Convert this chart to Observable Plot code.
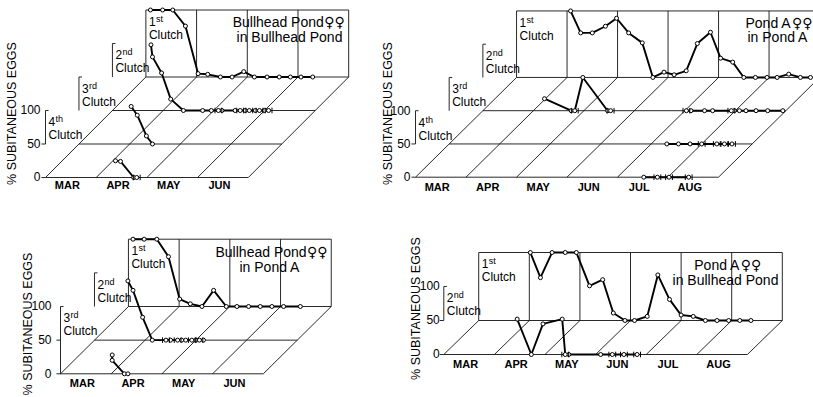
<!DOCTYPE html>
<html><head><meta charset="utf-8">
<script src="https://cdn.jsdelivr.net/npm/d3@7"></script>
<script src="https://cdn.jsdelivr.net/npm/@observablehq/plot@0.6"></script>
<style>
html,body{margin:0;padding:0;background:#fff;}
#fig{position:relative;width:813px;height:397px;overflow:hidden;background:#fff;}
#fig svg{position:absolute;}
</style></head><body><div id="fig"></div>
<script>
// ---------- DATA (t = months after 1 March, v = % subitaneous eggs, 3rd item 1 = crossed marker) ----------
const months4 = ["MAR", "APR", "MAY", "JUN"];
const months6 = ["MAR", "APR", "MAY", "JUN", "JUL", "AUG"];
const clutchNames = [["1", "st"], ["2", "nd"], ["3", "rd"], ["4", "th"]];
const yTicks = [0, 50, 100];
const axisTitle = "% SUBITANEOUS EGGS";

// Bullhead Pond females in Bullhead Pond
const titleBB = ["Bullhead Pond\u2640\u2640", "in Bullhead Pond"];
const bbClutch1 = [[0.09,100],[0.33,100],[0.53,100],[0.78,76],[1.03,5],[1.22,4],[1.47,0],[1.70,0],[1.93,8],[2.14,0],[2.39,0],[2.63,0],[2.85,0],[3.06,0],[3.29,0]];
const bbClutch2 = [[0.76,98],[0.79,80],[0.97,56],[1.15,17],[1.40,0],[1.78,0],[1.95,0],[2.09,0,1],[2.16,0],[2.42,0],[2.52,0,1],[2.62,0],[2.70,0,1],[2.82,0],[2.90,0,1],[3.00,0],[3.08,0,1]];
const bbClutch3 = [[1.03,56],[1.15,43],[1.33,12],[1.45,0]];
const bbClutch4 = [[1.38,25],[1.48,24],[1.74,0],[1.80,0,1]];

// Pond A females in Pond A
const titleAA = ["Pond A\u2640\u2640", "in Pond A"];
const aaClutch1 = [[1.07,100],[1.27,67],[1.50,67],[1.76,77],[1.98,89],[2.22,67],[2.49,52],[2.70,0],[2.92,8],[3.12,4],[3.36,10],[3.58,51],[3.84,68],[4.04,29],[4.28,23],[4.50,0],[4.73,0],[4.96,0],[5.16,0],[5.39,5],[5.62,0],[5.82,0]];
const aaClutch2a = [[1.22,18],[1.75,0],[1.82,0,1],[1.98,50],[2.47,0],[2.53,0,1]];
const aaClutch2b = [[4.03,0,1],[4.12,0],[4.39,0],[4.55,0],[4.92,0,1],[4.98,0],[5.08,0],[5.21,0],[5.41,0],[5.64,0],[5.94,0]];
const aaClutch3 = [[4.31,0],[4.54,0],[4.77,0],[5.00,0,1],[5.30,0,1],[5.45,0,1],[5.60,0,1]];
const aaClutch4 = [[4.52,0],[4.79,0,1],[5.02,0,1],[5.41,0,1]];

// Bullhead Pond females in Pond A
const titleBA = ["Bullhead Pond\u2640\u2640", "in Pond A"];
const baClutch1 = [[0.09,100],[0.31,100],[0.56,100],[0.79,74],[1.01,11],[1.22,4],[1.45,0],[1.68,24],[1.93,0],[2.14,0],[2.37,0],[2.60,0],[2.83,0],[3.06,0],[3.39,0]];
const baClutch2 = [[0.66,88],[0.76,74],[0.95,34],[1.14,0],[1.41,0,1],[1.50,0],[1.64,0,1],[1.72,0],[1.80,0],[1.92,0,1],[2.00,0],[2.07,0,1],[2.15,0]];
const baClutch3 = [[1.02,28],[1.02,20],[1.26,0],[1.33,0]];

// Pond A females in Bullhead Pond
const titleAB = ["Pond A\u2640\u2640", "in Bullhead Pond"];
const abClutch1 = [[1.02,100],[1.22,63],[1.45,100],[1.71,100],[1.93,100],[2.19,51],[2.45,60],[2.66,11],[2.89,0],[3.08,0],[3.33,6],[3.54,67],[3.77,31],[4.00,8],[4.24,6],[4.48,0],[4.71,0],[4.94,0],[5.16,0],[5.38,0]];
const abClutch2 = [[1.45,52],[1.73,0],[1.96,45],[2.34,52],[2.40,0,1],[2.47,0],[3.10,0],[3.33,0,1],[3.56,0,1],[3.82,0,1]];

// ---------- panel definitions (content) ----------
const panels = [
  {months: months4, nClutch: 4, title: titleBB,
   series: [{c:1, d:bbClutch1}, {c:2, d:bbClutch2}, {c:3, d:bbClutch3}, {c:4, d:bbClutch4}]},
  {months: months6, nClutch: 4, title: titleAA,
   series: [{c:1, d:aaClutch1}, {c:2, d:aaClutch2a}, {c:2, d:aaClutch2b}, {c:3, d:aaClutch3}, {c:4, d:aaClutch4}]},
  {months: months4, nClutch: 3, title: titleBA,
   series: [{c:1, d:baClutch1}, {c:2, d:baClutch2}, {c:3, d:baClutch3}]},
  {months: months6, nClutch: 2, title: titleAB,
   series: [{c:1, d:abClutch1}, {c:2, d:abClutch2}]}
];

// ---------- layout (pixels) ----------
const layout = [
  {left:0, top:0, width:380, height:200, ox:45, oy:177, mw:50.7, p100:67, k:0.66, frontFull:false,
   axX:11, axDy:13, tickDx:-5, monthDy:8,
   titlePos:[{x:288, y:22, a:"middle"}, {x:289, y:37, a:"middle"}]},
  {left:370, top:0, width:443, height:200, ox:45, oy:176.7, mw:50.5, p100:66.5, k:0.667, frontFull:false,
   axX:17, axDy:13, tickDx:-5, monthDy:10,
   titlePos:[{x:375, y:23, a:"start"}, {x:377, y:37, a:"start"}]},
  {left:0, top:200, width:380, height:197, ox:60, oy:173.3, mw:50.7, p100:67.3, k:0.67, frontFull:true,
   axX:27.5, axDy:25, tickDx:-9, monthDy:10,
   titlePos:[{x:215, y:52, a:"start"}, {x:239, y:67, a:"start"}]},
  {left:380, top:200, width:433, height:197, ox:63.3, oy:154, mw:50.6, p100:68, k:0.69, frontFull:false,
   axX:35, axDy:9.5, tickDx:-4, monthDy:10,
   titlePos:[{x:347, y:65, a:"middle"}, {x:345, y:80, a:"middle"}]}
];

const FONT = "'Liberation Sans', Arial, Helvetica, sans-serif";
const SYMFONT = "'DejaVu Sans', sans-serif";
const TITLE_SIZE = 14, SYM_SIZE = 14;

const measureCtx = document.createElement("canvas").getContext("2d");
function textWidth(s, size, family) { measureCtx.font = `${size}px ${family}`; return measureCtx.measureText(s).width; }

const barCircle = {
  draw(ctx, size) {
    const r = Math.sqrt(size / Math.PI);
    ctx.moveTo(r, 0); ctx.arc(0, 0, r, 0, 2 * Math.PI);
    ctx.moveTo(-r - 1.4, -r - 0.8); ctx.lineTo(-r - 1.4, r + 0.8);
    ctx.moveTo(r + 1.4, -r - 0.8); ctx.lineTo(r + 1.4, r + 0.8);
  }
};

function titleMarks(lines, pos) {
  const out = [];
  lines.forEach((line, i) => {
    const name = line.replace(/\u2640/g, "");
    const sym = line.slice(name.length);
    const wN = textWidth(name, TITLE_SIZE, FONT);
    const wS = sym ? textWidth(sym, SYM_SIZE, SYMFONT) : 0;
    const x0 = pos[i].a === "middle" ? pos[i].x - (wN + wS) / 2 : pos[i].x;
    out.push(Plot.text([name], {frameAnchor: "top-left", dx: x0, dy: pos[i].y, textAnchor: "start",
      lineAnchor: "middle", fontSize: TITLE_SIZE, fill: "#000"}));
    if (sym) out.push(Plot.text([sym], {frameAnchor: "top-left", dx: x0 + wN + 0.5, dy: pos[i].y, textAnchor: "start",
      lineAnchor: "middle", fontSize: SYM_SIZE, fontFamily: SYMFONT, fill: "#000"}));
  });
  return out;
}

function buildPanel(spec, cfg) {
  const D = spec.nClutch, M = spec.months.length, k = cfg.k;
  const P = (t, v, d) => ({x: t + d * k, y: v + d * 50});
  const ppv = cfg.p100 / 100;
  const seg = (a, b) => ({x1: a.x, y1: a.y, x2: b.x, y2: b.y});

  const thin = [];
  for (let d = 0; d < D; d++) thin.push(seg(P(0, 0, d), P(M, 0, d)));            // floor lines
  for (let m = 0; m <= M; m++) thin.push(seg(P(m, 0, 0), P(m, 0, D - 1)));        // diagonals
  for (let m = 0; m <= M; m++) thin.push(seg(P(m, 0, D - 1), P(m, 100, D - 1)));  // back wall verticals
  thin.push(seg(P(0, 100, D - 1), P(M, 100, D - 1)));                              // back wall top
  for (let d = 0; d < D - 1; d++) {                                                // clutch brackets
    const lo = (d === 0 && cfg.frontFull) ? 0 : 50;
    thin.push(seg(P(0, lo, d), P(0, 100, d)));
    thin.push(seg(P(0, 100, d), P(0.06, 100, d)));
  }
  thin.push(seg(P(-0.08, 0, 0), P(0, 0, 0)));
  thin.push(seg(P(-0.08, 50, 0), P(0, 50, 0)));

  const lines = spec.series.map(s => s.d.map(([t, v, x]) => ({...P(t, v, D - s.c), crossed: !!x})));
  const pts = lines.flat();

  const monthLabels = spec.months.map((m, i) => ({x: i + 0.43, y: 0, label: m}));
  const tickLabels = yTicks.map(v => ({x: 0, y: v, label: String(v)}));
  const clutchLab = d3.range(D).map(d => {
    const c = D - d; const p = P(0, 100, d);
    return {x: p.x, y: p.y, num: clutchNames[c - 1][0], suf: clutchNames[c - 1][1]};
  });

  const marks = [
    Plot.link(thin, {x1: "x1", y1: "y1", x2: "x2", y2: "y2", stroke: "#111", strokeWidth: 0.9}),
    ...lines.map(l => Plot.line(l, {x: "x", y: "y", stroke: "#000", strokeWidth: 1.9, strokeLinejoin: "round"})),
    Plot.dot(pts.filter(p => !p.crossed), {x: "x", y: "y", r: 2, fill: "white", stroke: "#000", strokeWidth: 1}),
    Plot.dot(pts.filter(p => p.crossed), {x: "x", y: "y", r: 2, symbol: barCircle, fill: "white", stroke: "#000", strokeWidth: 1}),
    Plot.text(monthLabels, {x: "x", y: "y", text: "label", dy: cfg.monthDy, lineAnchor: "middle", fontSize: 11, fontWeight: "bold", fill: "#000"}),
    Plot.text(tickLabels, {x: "x", y: "y", text: "label", dx: cfg.tickDx, textAnchor: "end", fontSize: 12, fill: "#000"}),
    Plot.text(clutchLab, {x: "x", y: "y", text: "num", dx: 3, dy: 12, textAnchor: "start", fontSize: 12, fill: "#000"}),
    Plot.text(clutchLab, {x: "x", y: "y", text: "suf", dx: 10, dy: 9, textAnchor: "start", fontSize: 9, fill: "#000"}),
    Plot.text(clutchLab, {x: "x", y: "y", text: () => "Clutch", dx: 3, dy: 25, textAnchor: "start", fontSize: 12, fill: "#000"}),
    Plot.text([axisTitle], {frameAnchor: "left", dx: cfg.axX, dy: cfg.axDy, rotate: -90, textAnchor: "middle", fontSize: 12.5, fill: "#000"}),
    ...titleMarks(spec.title, cfg.titlePos)
  ];

  const svg = Plot.plot({
    width: cfg.width, height: cfg.height,
    marginLeft: 0, marginRight: 0, marginTop: 0, marginBottom: 0,
    style: {fontFamily: FONT, background: "transparent", overflow: "visible"},
    x: {type: "linear", domain: [-cfg.ox / cfg.mw, (cfg.width - cfg.ox) / cfg.mw], range: [0, cfg.width], axis: null},
    y: {type: "linear", domain: [(cfg.oy - cfg.height) / ppv, cfg.oy / ppv], range: [cfg.height, 0], axis: null},
    marks
  });
  svg.style.left = cfg.left + "px";
  svg.style.top = cfg.top + "px";
  svg.style.overflow = "visible";
  return svg;
}

const fig = document.getElementById("fig");
panels.forEach((p, i) => fig.appendChild(buildPanel(p, layout[i])));
</script>
</body></html>
